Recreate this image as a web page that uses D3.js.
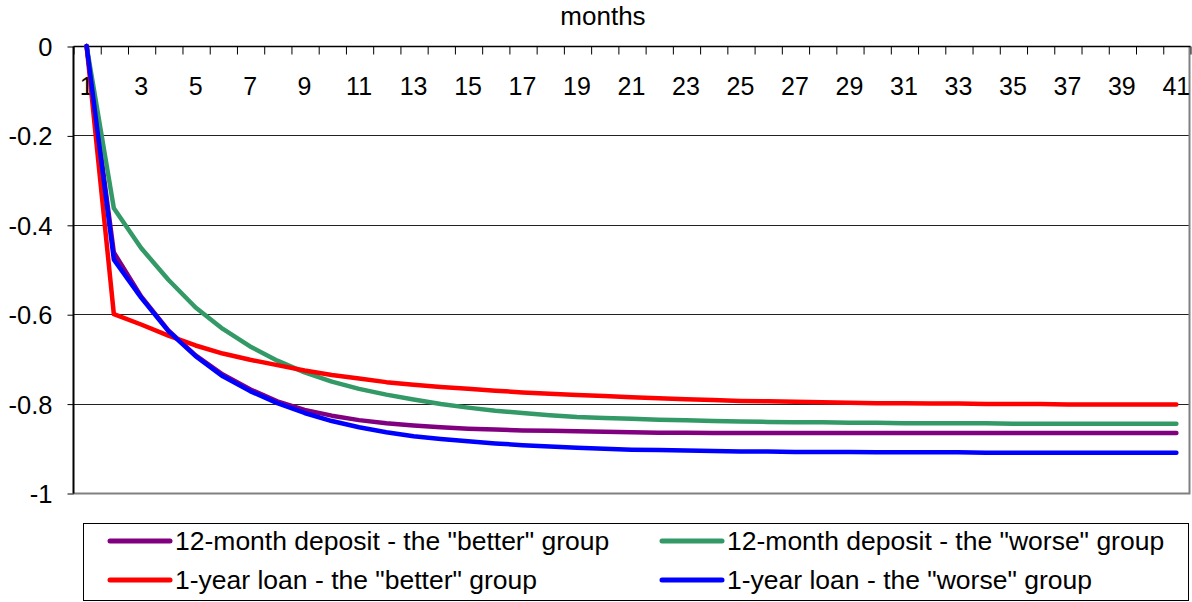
<!DOCTYPE html>
<html>
<head>
<meta charset="utf-8">
<title>months</title>
<script src="https://cdn.jsdelivr.net/npm/d3@7"></script>
<style>
  body { margin: 0; background: #fff; }
  svg text { font-family: "Liberation Sans", Arial, sans-serif; fill: #000; }
</style>
</head>
<body>
<script>
// months on the x axis
var months = d3.range(1, 42);

// series values (one per month)
var depositBetter = [0, -0.462, -0.560, -0.636, -0.692, -0.735, -0.768, -0.795, -0.814, -0.827,
  -0.837, -0.844, -0.849, -0.853, -0.856, -0.858, -0.860, -0.861, -0.862, -0.863,
  -0.864, -0.865, -0.865, -0.866, -0.866, -0.866, -0.866, -0.866, -0.866, -0.866,
  -0.866, -0.866, -0.866, -0.866, -0.866, -0.866, -0.866, -0.866, -0.866, -0.866, -0.866];
var depositWorse = [0, -0.363, -0.452, -0.523, -0.585, -0.633, -0.672, -0.704, -0.730, -0.751,
  -0.767, -0.780, -0.791, -0.801, -0.809, -0.816, -0.821, -0.826, -0.830, -0.832,
  -0.834, -0.836, -0.837, -0.839, -0.840, -0.841, -0.842, -0.842, -0.843, -0.843,
  -0.844, -0.844, -0.844, -0.844, -0.845, -0.845, -0.845, -0.845, -0.845, -0.845, -0.845];
var loanBetter = [0, -0.600, -0.623, -0.648, -0.670, -0.688, -0.702, -0.714, -0.726, -0.736,
  -0.744, -0.752, -0.758, -0.763, -0.767, -0.771, -0.775, -0.778, -0.781, -0.783,
  -0.786, -0.788, -0.790, -0.792, -0.794, -0.795, -0.796, -0.797, -0.798, -0.799,
  -0.799, -0.800, -0.800, -0.801, -0.801, -0.801, -0.802, -0.802, -0.802, -0.802, -0.802];
var loanWorse = [0, -0.478, -0.563, -0.638, -0.694, -0.739, -0.772, -0.799, -0.821, -0.839,
  -0.853, -0.864, -0.873, -0.879, -0.884, -0.889, -0.893, -0.896, -0.899, -0.901,
  -0.903, -0.904, -0.905, -0.906, -0.907, -0.907, -0.908, -0.908, -0.908, -0.909,
  -0.909, -0.909, -0.909, -0.910, -0.910, -0.910, -0.910, -0.910, -0.910, -0.910, -0.910];

var seriesNames = ['12-month deposit - the "better" group', '12-month deposit - the "worse" group',
  '1-year loan - the "better" group', '1-year loan - the "worse" group'];
var seriesColors = ["#800080", "#339966", "#ff0000", "#0000ff"];
var yTicks = [0, -0.2, -0.4, -0.6, -0.8, -1];
var xLabels = months.filter(function(m) { return m % 2 == 1; });

var series = [depositBetter, depositWorse, loanBetter, loanWorse].map(function(vals, i) {
  return { name: seriesNames[i], color: seriesColors[i], values: vals };
});

var W = 1192, H = 602;
// plot area edges (not called top/left etc: window.top is taken)
var pL = 73, pR = 1190, pT = 46, pB = 493;

var svg = d3.select("body").append("svg")
  .attr("width", W)
  .attr("height", H);

var x = d3.scaleBand().domain(months).range([pL, pR]);
var xEdge = d3.scaleLinear().domain([0.5, 41.5]).range([pL, pR]);
var y = d3.scaleLinear().domain([-1, 0]).range([pB, pT]);

// gridlines
svg.append("g")
  .selectAll("line")
  .data(yTicks.filter(function(d) { return d != 0 && d != -1; }))
  .enter().append("line")
  .attr("x1", pL).attr("x2", pR)
  .attr("y1", function(d) { return Math.round(y(d)) + 0.5; })
  .attr("y2", function(d) { return Math.round(y(d)) + 0.5; })
  .attr("stroke", "#222")
  .attr("stroke-width", 1);

// plot border (right and bottom, grey)
svg.append("path")
  .attr("d", "M" + (pR - 0.5) + "," + pT + "V" + (pB + 0.5) + "H" + pL)
  .attr("fill", "none")
  .attr("stroke", "#808080")
  .attr("stroke-width", 2);

// y axis
var yAxis = svg.append("g")
  .attr("transform", "translate(" + (pL + 0.5) + ",0.5)")
  .call(d3.axisLeft(y).tickValues(yTicks).tickSize(6).tickPadding(15)
    .tickFormat(function(d) { return String(d); }));
yAxis.select(".domain").attr("d", "M0," + pT + "V" + pB).attr("stroke", "#000").attr("stroke-width", 2);
yAxis.selectAll(".tick line").attr("stroke", "#000");
yAxis.selectAll("text").attr("font-size", 25.5).attr("dy", "0.35em");

// x axis sits on the zero line at the top, tick marks at month boundaries
var xAxis = svg.append("g")
  .attr("transform", "translate(0.5," + (pT + 0.5) + ")")
  .call(d3.axisBottom(xEdge).tickValues(d3.range(0.5, 42, 1)).tickSize(8).tickFormat(""));
xAxis.select(".domain").attr("d", "M" + pL + ",0H" + pR).attr("stroke", "#000").attr("stroke-width", 1.5);
xAxis.selectAll(".tick line").attr("stroke", "#000");

svg.append("g")
  .selectAll("text")
  .data(xLabels)
  .enter().append("text")
  .attr("x", function(d) { return x(d) + x.bandwidth() / 2; })
  .attr("y", 95)
  .attr("text-anchor", "middle")
  .attr("font-size", 25)
  .text(function(d) { return d; });

// title
svg.append("text")
  .attr("x", 603)
  .attr("y", 25)
  .attr("text-anchor", "middle")
  .attr("font-size", 26)
  .text("months");

// the lines
var line = d3.line()
  .x(function(d, i) { return x(months[i]) + x.bandwidth() / 2; })
  .y(function(d) { return y(d); });

svg.append("g")
  .selectAll("path")
  .data(series)
  .enter().append("path")
  .attr("d", function(s) { return line(s.values); })
  .attr("fill", "none")
  .attr("stroke", function(s) { return s.color; })
  .attr("stroke-width", 4.5)
  .attr("stroke-linejoin", "round")
  .attr("stroke-linecap", "round");

// legend
svg.append("rect")
  .attr("x", 83.5).attr("y", 523.5)
  .attr("width", 1105).attr("height", 77)
  .attr("fill", "#fff")
  .attr("stroke", "#000");

var legend = svg.selectAll(".legend")
  .data(series)
  .enter().append("g")
  .attr("class", "legend")
  .attr("transform", function(d, i) {
    var horz = i % 2 == 0 ? 110 : 662;
    var vert = i < 2 ? 541 : 580;
    return "translate(" + horz + "," + vert + ")";
  });

legend.append("line")
  .attr("x1", 0).attr("x2", 60)
  .attr("stroke", function(d) { return d.color; })
  .attr("stroke-width", 5)
  .attr("stroke-linecap", "round");

legend.append("text")
  .attr("x", 65)
  .attr("dy", "0.35em")
  .attr("font-size", 26.5)
  .text(function(d) { return d.name; });
</script>
</body>
</html>
